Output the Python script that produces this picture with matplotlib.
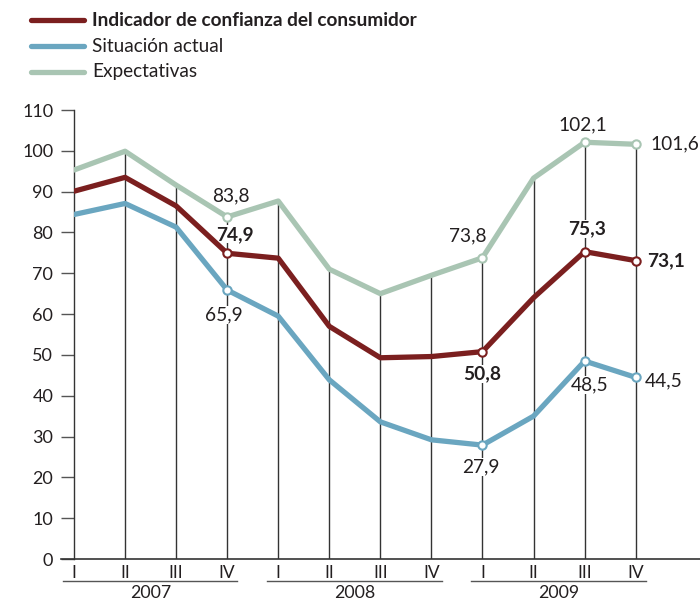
import numpy as np
import matplotlib.pyplot as plt
from matplotlib.lines import Line2D
import matplotlib.transforms as mtransforms

plt.rcParams['font.family'] = ['Lato', 'DejaVu Sans']

quarters = ['I', 'II', 'III', 'IV'] * 3
years = ['2007', '2008', '2009']
icc = [90.1, 93.5, 86.5, 74.9, 73.7, 57.0, 49.3, 49.6, 50.8, 64.0, 75.3, 73.1]
actual = [84.4, 87.1, 81.3, 65.9, 59.5, 43.9, 33.6, 29.2, 27.9, 35.0, 48.5, 44.5]
expect = [95.3, 99.9, 91.6, 83.8, 87.7, 71.0, 65.0, 69.5, 73.8, 93.3, 102.1, 101.6]

C_ICC = '#7b1f1f'
C_ACT = '#6aa6c0'
C_EXP = '#a9c5b3'
TXT = '#231f20'

# labelled points: (series, index, text, dx, dy, ha, bold)  offsets in px
labels = [
    (expect, 3, '83,8', 4, 21, 'center', False),
    (icc, 3, '74,9', 8, 19, 'center', True),
    (actual, 3, '65,9', -3, -25, 'center', False),
    (expect, 8, '73,8', -15, 22, 'center', False),
    (icc, 8, '50,8', 0, -22, 'center', True),
    (actual, 8, '27,9', -2, -22, 'center', False),
    (expect, 10, '102,1', -2, 17, 'center', False),
    (icc, 10, '75,3', 2, 23, 'center', True),
    (actual, 10, '48,5', 5, -24, 'center', False),
    (expect, 11, '101,6', 15, 0, 'left', False),
    (icc, 11, '73,1', 11, 0, 'left', True),
    (actual, 11, '44,5', 9, -4, 'left', False),
]

W, H = 700, 601
fig = plt.figure(figsize=(W / 100, H / 100), dpi=100)
ax = fig.add_axes([74 / W, 42 / H, (W - 74) / W, 449 / H])

x = np.arange(len(quarters))
step = 51.06
ax.set_xlim(0, (W - 74) / step)
ax.set_ylim(0, 110)

# vertical guides from 0 up to the top series
ax.vlines(x[1:], 0, np.array(expect)[1:], color='#333333', lw=1.0, zorder=1)

for vals, col in [(expect, C_EXP), (actual, C_ACT), (icc, C_ICC)]:
    ax.plot(x, vals, color=col, lw=3.8, solid_capstyle='round',
            solid_joinstyle='round', zorder=3)

for vals, i, t, dx, dy, ha, bold in labels:
    col = C_EXP if vals is expect else (C_ACT if vals is actual else C_ICC)
    ax.plot(x[i], vals[i], 'o', ms=6, mfc='white', mec=col, mew=1.5, zorder=5)
    ax.annotate(t, (x[i], vals[i]), xytext=(dx * 0.72, dy * 0.72),
                textcoords='offset points', ha=ha, va='center',
                fontsize=13.8, color=TXT, fontweight='bold' if bold else 'normal',
                bbox=dict(boxstyle='square,pad=0.02', fc='white', ec='none'),
                zorder=2)

for s in ['top', 'right', 'bottom']:
    ax.spines[s].set_visible(False)
ax.spines['left'].set_color('#333333')
ax.spines['left'].set_linewidth(1.0)
ax.set_yticks(np.arange(0, 111, 10))
ax.tick_params(axis='y', length=9.4, width=1.0, color='#555555', pad=5.5,
               labelsize=13, labelcolor=TXT)
ax.set_xticks(x)
ax.set_xticklabels(quarters)
ax.tick_params(axis='x', length=0, pad=4, labelsize=12.5, labelcolor=TXT)

# baseline extends left of the y axis
ax.add_line(Line2D([-13 / step, (W - 74) / step], [0, 0], color='#333333',
                   lw=1.2, clip_on=False, zorder=6))

trans = mtransforms.blended_transform_factory(ax.transData, ax.transAxes)
for k, yr in enumerate(years):
    x0 = 4 * k
    ax.add_line(Line2D([x0 - 0.22, x0 + 3.2], [-22 / 449] * 2, color='#555555',
                       lw=1.0, clip_on=False, transform=trans))
    ax.text(x0 + 1.5, -34.5 / 449, yr, transform=trans, ha='center', va='center',
            fontsize=12.8, color=TXT)

# legend
leg = [(C_ICC, 'Indicador de confianza del consumidor', 'bold'),
       (C_ACT, 'Situación actual', 'normal'),
       (C_EXP, 'Expectativas', 'normal')]
for k, (col, t, fw) in enumerate(leg):
    yy = 1 - (20 + 26 * k) / H
    fig.add_artist(Line2D([31 / W, 84 / W], [yy, yy], color=col, lw=3.8,
                          solid_capstyle='round'))
    fig.text(92 / W, yy, t, ha='left', va='center', fontsize=13.7,
             fontweight=fw, color=TXT)

fig.savefig('out.png', dpi=100)
